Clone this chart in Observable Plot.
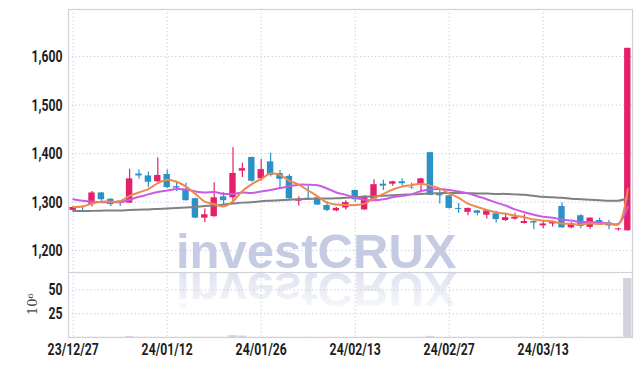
<!DOCTYPE html>
<html><head><meta charset="utf-8">
<script src="https://cdn.jsdelivr.net/npm/d3@7"></script>
<script src="https://cdn.jsdelivr.net/npm/@observablehq/plot@0.6"></script>
<style>
body{margin:0;background:#fff;}
#wrap{position:relative;width:642px;height:366px;overflow:hidden;background:#fff;}
#wm{position:absolute;left:0;top:0;}
#charts{position:absolute;left:0;top:0;width:642px;}
#charts svg{display:block;}
</style></head><body>
<div id="wrap">
<svg id="wm" width="642" height="366">
  <defs>
    <linearGradient id="fade" x1="0" y1="0" x2="0" y2="1">
      <stop offset="0" stop-color="#c5cbe2" stop-opacity="0.05"/>
      <stop offset="1" stop-color="#c5cbe2" stop-opacity="0.65"/>
    </linearGradient>
  </defs>
  <text x="176" y="268" font-family="Liberation Sans, Arial, sans-serif" font-weight="bold" font-size="49" fill="#c5cbe2">investCRUX</text>
  <g transform="translate(0,541) scale(1,-1)">
    <text x="176" y="268" font-family="Liberation Sans, Arial, sans-serif" font-weight="bold" font-size="49" fill="url(#fade)">investCRUX</text>
  </g>
</svg>
<div id="charts"></div>
</div>
<script>
// ---- data ----
const dates = ["23/12/27","23/12/28","24/01/02","24/01/03","24/01/04","24/01/05","24/01/08","24/01/09","24/01/10","24/01/11",
  "24/01/12","24/01/15","24/01/16","24/01/17","24/01/18","24/01/19","24/01/22","24/01/23","24/01/24","24/01/25",
  "24/01/26","24/01/29","24/01/30","24/01/31","24/02/01","24/02/02","24/02/05","24/02/06","24/02/07","24/02/08",
  "24/02/13","24/02/14","24/02/15","24/02/16","24/02/19","24/02/20","24/02/21","24/02/22","24/02/23","24/02/26",
  "24/02/27","24/02/28","24/02/29","24/03/04","24/03/05","24/03/06","24/03/07","24/03/08","24/03/11","24/03/12",
  "24/03/13","24/03/14","24/03/15","24/03/18","24/03/19","24/03/20","24/03/21","24/03/22","24/03/25","24/03/26"];
const opens  = [1283,1291,1295,1319,1306,1302,1298,1358,1354,1342, 1357,1332,1326,1307,1267,1270,1311,1309,1364,1392,
  1348,1383,1359,1353,1302,1308,1309,1293,1282,1288, 1324,1284,1306,1337,1337,1342,1329,1338,1402,1317,
  1313,1287,1279,1282,1273,1276,1262,1265,1256,1260, 1251,1255,1291,1247,1272,1248,1262,1257,1243,1241];
const highs  = [1291,1292,1322,1320,1307,1303,1368,1366,1362,1391, 1366,1340,1339,1308,1286,1340,1320,1412,1380,1393,
  1388,1401,1365,1357,1311,1332,1310,1301,1289,1303, 1325,1313,1346,1345,1343,1348,1339,1349,1403,1326,
  1314,1297,1288,1283,1283,1281,1277,1277,1274,1261, 1262,1261,1298,1258,1274,1268,1267,1262,1246,1617];
const lows   = [1281,1280,1290,1298,1291,1291,1297,1347,1330,1341, 1328,1322,1302,1266,1258,1269,1294,1297,1351,1341,
  1343,1352,1326,1305,1292,1305,1293,1280,1280,1284, 1300,1283,1304,1324,1333,1333,1327,1319,1313,1296,
  1286,1277,1272,1272,1265,1257,1260,1263,1255,1243, 1245,1249,1246,1245,1245,1244,1255,1243,1240,1240];
const closes = [1289,1289,1319,1305,1295,1297,1348,1354,1341,1355, 1330,1329,1303,1267,1274,1309,1303,1359,1369,1343,
  1367,1355,1347,1307,1306,1306,1294,1283,1287,1299, 1305,1312,1336,1333,1342,1338,1328,1348,1314,1313,
  1287,1285,1287,1277,1282,1264,1268,1269,1260,1257, 1255,1260,1247,1256,1250,1267,1257,1251,1245,1617];
const volumes = [0.2,0.2,0.3,0.2,0.2,0.2,1.0,0.3,0.2,0.3, 0.2,0.2,0.2,0.3,0.2,0.3,0.2,2.0,1.5,0.3,
  0.2,0.3,0.2,0.2,0.2,0.2,0.2,0.2,0.2,0.2, 0.2,0.2,0.3,0.2,0.2,0.2,0.2,0.2,1.2,0.2,
  0.2,0.2,0.2,0.2,0.2,0.2,0.2,0.2,0.2,0.2, 0.2,0.2,0.3,0.2,0.2,0.2,0.2,0.2,0.2,62];
const ma5  = [1290,1291,1297,1301,1301,1302,1313,1320,1327,1339, 1346,1342,1332,1317,1301,1296,1291,1302,1323,1337,
  1348,1359,1356,1344,1336,1324,1312,1299,1295,1294, 1294,1297,1308,1317,1326,1332,1335,1338,1334,1328,
  1318,1309,1297,1290,1284,1279,1276,1272,1269,1264, 1262,1260,1256,1255,1254,1256,1255,1256,1254,1327];
const ma10 = [1306,1303,1301,1300,1300,1300,1305,1311,1316,1321, 1324,1327,1326,1322,1320,1321,1317,1317,1320,1319,
  1322,1325,1329,1333,1336,1336,1335,1328,1320,1315, 1309,1305,1304,1306,1310,1313,1316,1323,1326,1327,
  1325,1322,1318,1312,1306,1299,1293,1285,1279,1274, 1270,1268,1264,1262,1259,1259,1258,1256,1255,1291];
const maLong = [1282,1282,1282,1282.5,1283,1283,1284,1284.5,1285,1286, 1287,1288,1289,1290,1292,1293,1295,1297,1299,1300,
  1302,1303,1304,1305,1306,1306.5,1307,1307.5,1308,1309, 1310,1311,1312,1313,1314,1315,1316,1317,1318,1318.5,
  1319,1319,1318.5,1318,1318,1317,1317,1316,1315,1313, 1311,1310,1309,1307,1306,1305,1304,1303,1303,1308];
const priceTicks = [1200,1300,1400,1500,1600];
const volTicks = [25,50];
const xTickIdx = [0,10,20,30,40,50];

// ---- styles ----
const UP = "#e5206a", DOWN = "#2b92c8";
const GRID = "#c3c7dd", FRAME = "#d0d1db";
const FONT = "Roboto, 'DejaVu Sans', sans-serif";

const rows = dates.map((d, i) => ({i, date: d, open: opens[i], high: highs[i], low: lows[i], close: closes[i], vol: volumes[i]}));
const col = d => d.close >= d.open ? UP : DOWN;
const xDomain = [-0.5, dates.length - 0.5];

const main = Plot.plot({
  width: 642, height: 272,
  marginLeft: 68, marginRight: 10, marginTop: 9, marginBottom: 0,
  style: {background: "transparent", fontFamily: FONT, fontSize: "17px", fontWeight: "bold", color: "#1e1e1e"},
  x: {domain: xDomain, axis: null},
  y: {domain: [1155, 1697], ticks: priceTicks, tickSize: 0, tickPadding: 6, tickFormat: d3.format(","), label: null},
  marks: [
    Plot.ruleY(priceTicks, {stroke: GRID, strokeDasharray: "1.2,2.5", strokeWidth: 1}),
    Plot.ruleX(xTickIdx, {stroke: GRID, strokeDasharray: "1.2,2.5", strokeWidth: 1}),
    Plot.frame({stroke: FRAME, strokeWidth: 1.2}),
    Plot.ruleX(rows, {x: "i", y1: "low", y2: "high", stroke: col, strokeWidth: 1.2}),
    Plot.rectY(rows, {x1: d => d.i - 0.5, x2: d => d.i + 0.5, y1: "open", y2: "close", fill: col, insetLeft: 1.5, insetRight: 1.5}),
    Plot.lineY(maLong, {stroke: "#808080", strokeWidth: 2, curve: "catmull-rom"}),
    Plot.lineY(ma10, {stroke: "#c95be6", strokeWidth: 2, curve: "catmull-rom"}),
    Plot.lineY(ma5, {stroke: "#ee8a4c", strokeWidth: 2, curve: "catmull-rom"})
  ]
});

const vol = Plot.plot({
  width: 642, height: 94,
  marginLeft: 68, marginRight: 10, marginTop: 0, marginBottom: 29,
  style: {background: "transparent", fontFamily: FONT, fontSize: "17px", fontWeight: "bold", color: "#1e1e1e"},
  x: {domain: xDomain, ticks: xTickIdx, tickFormat: i => dates[i], tickSize: 0, tickPadding: 5, label: null},
  y: {domain: [0, 68.3], ticks: volTicks, tickSize: 0, tickPadding: 6, label: null},
  marks: [
    Plot.ruleY(volTicks, {stroke: GRID, strokeDasharray: "1.2,2.5", strokeWidth: 1}),
    Plot.ruleX(xTickIdx, {stroke: GRID, strokeDasharray: "1.2,2.5", strokeWidth: 1}),
    Plot.frame({stroke: FRAME, strokeWidth: 1.2}),
    Plot.rectY(rows, {x1: d => d.i - 0.5, x2: d => d.i + 0.5, y: "vol", fill: "#d3d3db", insetLeft: 0.5, insetRight: 0.5}),
    Plot.text(["10⁶"], {text: d => d, frameAnchor: "left", dx: -36, dy: 10, rotate: -90, fontFamily: "'DejaVu Serif', serif", fontWeight: "normal", fontSize: 13, fill: "#444"})
  ]
});

// condense the axis tick labels horizontally (the reference uses a narrow typeface)
for (const svg of [main, vol]) {
  d3.select(svg).selectAll('g[aria-label^="x-axis"] text, g[aria-label^="y-axis"] text').each(function() {
    const t = this.getAttribute("transform") || "";
    this.setAttribute("transform", (t + " scale(0.72,1)").trim());
  });
}

document.getElementById("charts").append(main, vol);
</script>
</body></html>
